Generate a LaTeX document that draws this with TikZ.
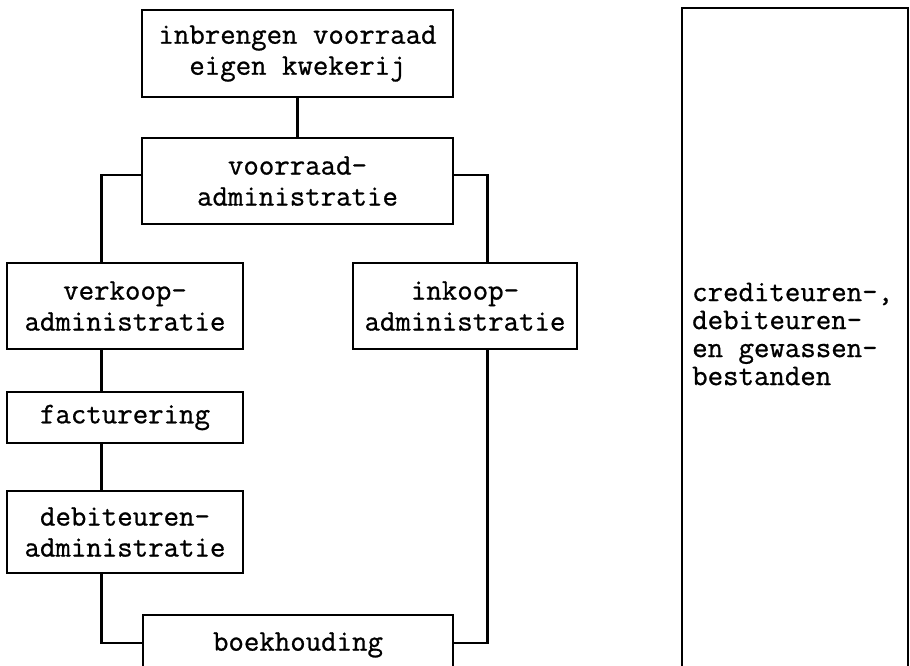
\documentclass[tikz,border=0pt]{standalone}
\usepackage{fontspec}
\newfontfamily\typefont[FakeBold=0.8]{Latin Modern Mono}
\begin{document}
\begin{tikzpicture}[x=1pt,y=-1pt,
  box/.style={draw=black,line width=2.8pt,rectangle,inner sep=0pt,align=center,
    font=\typefont\fontsize{30}{31}\selectfont},
  link/.style={draw=black,line width=2.8pt},
  txt/.style={inner sep=0pt,align=left,font=\typefont\fontsize{30}{28}\selectfont}]
\useasboundingbox[fill=white] (0,0) rectangle (910,665);
\node[box,minimum width=311pt,minimum height=87pt] (top) at (297.5,53.5) {inbrengen voorraad\\eigen kwekerij};
\node[box,minimum width=311pt,minimum height=86pt] (vr) at (297.5,181) {voorraad-\\administratie};
\node[box,minimum width=236pt,minimum height=86pt] (vk) at (125,306) {verkoop-\\administratie};
\node[box,minimum width=236pt,minimum height=51pt] (fac) at (125,417.5) {facturering};
\node[box,minimum width=236pt,minimum height=82pt] (deb) at (125,532) {debiteuren-\\administratie};
\node[box,minimum width=224pt,minimum height=86pt] (ink) at (465,306) {inkoop-\\administratie};
\node[box,minimum width=310pt,minimum height=84pt] (boek) at (298,657) {boekhouding\\\mbox{}};
\node[box,minimum width=226pt,minimum height=700pt] (best) at (795,358) {};
\node[txt,anchor=west] (besttxt) at (692,334) {crediteuren-,\\debiteuren-\\en gewassen-\\bestanden};
\draw[link] (top) -- (vr);
\draw[link] ([yshift=6pt]vr.west) -| ([xshift=96pt]vk.north west);
\draw[link] ([xshift=96pt]vk.south west) -- ([xshift=96pt]fac.north west);
\draw[link] ([xshift=96pt]fac.south west) -- ([xshift=96pt]deb.north west);
\draw[link] ([xshift=96pt]deb.south west) |- ([yshift=14pt]boek.west);
\draw[link] ([yshift=6pt]vr.east) -| ([xshift=136pt]ink.north west);
\draw[link] ([xshift=136pt]ink.south west) |- ([yshift=14pt]boek.east);
\end{tikzpicture}
\end{document}
